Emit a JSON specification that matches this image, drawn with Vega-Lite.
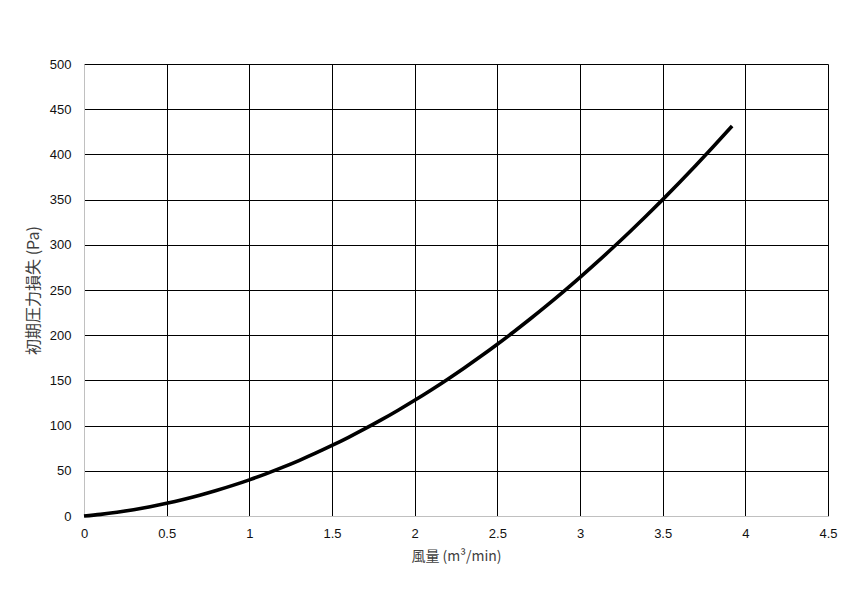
{
  "$schema": "https://vega.github.io/schema/vega-lite/v6.json",
  "width": 744,
  "height": 452,
  "autosize": "none",
  "padding": {"left": 84, "top": 64, "right": 25, "bottom": 76},
  "background": "white",
  "config": {
    "view": {"stroke": null},
    "font": "Liberation Sans"
  },
  "data": {
    "values": [
      {"q": 0, "p": 0}, {"q": 0.1, "p": 1.84}, {"q": 0.2, "p": 4.16}, {"q": 0.3, "p": 6.96},
      {"q": 0.4, "p": 10.24}, {"q": 0.5, "p": 14}, {"q": 0.6, "p": 18.24}, {"q": 0.7, "p": 22.96},
      {"q": 0.8, "p": 28.16}, {"q": 0.9, "p": 33.84}, {"q": 1.0, "p": 40}, {"q": 1.1, "p": 46.64},
      {"q": 1.2, "p": 53.76}, {"q": 1.3, "p": 61.36}, {"q": 1.4, "p": 69.44}, {"q": 1.5, "p": 78},
      {"q": 1.6, "p": 87.04}, {"q": 1.7, "p": 96.56}, {"q": 1.8, "p": 106.56}, {"q": 1.9, "p": 117.04},
      {"q": 2.0, "p": 128}, {"q": 2.1, "p": 139.44}, {"q": 2.2, "p": 151.36}, {"q": 2.3, "p": 163.76},
      {"q": 2.4, "p": 176.64}, {"q": 2.5, "p": 190}, {"q": 2.6, "p": 203.84}, {"q": 2.7, "p": 218.16},
      {"q": 2.8, "p": 232.96}, {"q": 2.9, "p": 248.24}, {"q": 3.0, "p": 264}, {"q": 3.1, "p": 280.24},
      {"q": 3.2, "p": 296.96}, {"q": 3.3, "p": 314.16}, {"q": 3.4, "p": 331.84}, {"q": 3.5, "p": 350},
      {"q": 3.6, "p": 368.64}, {"q": 3.7, "p": 387.76}, {"q": 3.8, "p": 407.36}, {"q": 3.92, "p": 431.5}
    ]
  },
  "mark": {"type": "line", "color": "#000000", "strokeWidth": 3.6, "interpolate": "monotone", "strokeCap": "butt"},
  "encoding": {
    "x": {
      "field": "q", "type": "quantitative",
      "scale": {"domain": [0, 4.5], "nice": false, "zero": true},
      "axis": {
        "title": "風量 (m³/min)",
        "values": [0, 0.5, 1, 1.5, 2, 2.5, 3, 3.5, 4, 4.5],
        "format": "~g",
        "grid": true,
        "gridColor": {"condition": {"test": "datum.value === 0", "value": "#c0c0c0"}, "value": "#000000"},
        "gridWidth": 1,
        "gridOpacity": 1,
        "domainColor": "#c0c0c0",
        "domainWidth": 1,
        "ticks": false,
        "labelFont": "Liberation Sans",
        "labelFontSize": 13,
        "labelColor": "#111111",
        "labelPadding": 11,
        "labelFlush": false,
        "titleFont": "Noto Sans CJK JP",
        "titleFontSize": 14,
        "titleFontWeight": "normal",
        "titleColor": "#404040",
        "titlePadding": 9
      }
    },
    "y": {
      "field": "p", "type": "quantitative",
      "scale": {"domain": [0, 500], "nice": false},
      "axis": {
        "title": "初期圧力損失 (Pa)",
        "values": [0, 50, 100, 150, 200, 250, 300, 350, 400, 450, 500],
        "grid": true,
        "gridColor": {"condition": {"test": "datum.value === 0", "value": "#c0c0c0"}, "value": "#000000"},
        "gridWidth": 1,
        "gridOpacity": 1,
        "domainColor": "#c0c0c0",
        "domainWidth": 1,
        "ticks": false,
        "labelFont": "Liberation Sans",
        "labelFontSize": 13,
        "labelColor": "#111111",
        "labelPadding": 13,
        "titleFont": "Noto Sans CJK JP",
        "titleFontSize": 16,
        "titleFontWeight": "normal",
        "titleColor": "#404040",
        "titlePadding": 8
      }
    }
  }
}
